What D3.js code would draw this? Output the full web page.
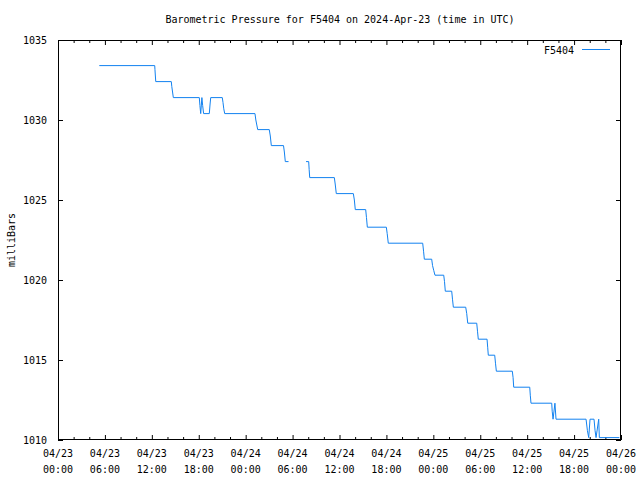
<!DOCTYPE html>
<html>
<head>
<meta charset="utf-8">
<script src="https://cdn.jsdelivr.net/npm/d3@7"></script>
<style>
  html, body { margin: 0; padding: 0; background: #fff; }
  svg text { font-family: "DejaVu Sans Mono", "Liberation Mono", monospace; font-size: 10px; fill: #000; }
</style>
</head>
<body>
<svg id="chart" width="640" height="480"></svg>
<script>
// ---- data (hours since 2024-04-23 00:00 UTC, pressure in mb; null = gap) ----
const hours = [
  5.28, 12.37, 12.40, 12.50, 14.49, 14.55, 14.75,
  18.07, 18.15, 18.25, 18.40, 18.50, 18.62, 19.35, 19.45, 19.53,
  21.01, 21.10, 21.20, 21.32, 25.19, 25.30, 25.54, 27.02, 27.15, 27.28,
  28.84, 28.95, 29.07, 29.48, 30.50,
  31.72, 32.06, 32.12, 32.19, 35.34, 35.45, 35.59, 37.77, 37.90, 38.02,
  39.35, 39.45, 39.56, 41.99, 42.10, 42.24, 46.64, 46.75, 46.85,
  47.79, 47.90, 48.05, 48.21, 49.33, 49.43, 49.53, 50.35, 50.45, 50.56,
  52.14, 52.27, 52.40, 53.55, 53.65, 53.75, 54.87, 54.95, 55.03,
  55.85, 55.95, 56.06, 58.10, 58.20, 58.28, 60.33, 60.40, 60.49,
  63.14, 63.20, 63.31, 63.55, 63.69, 67.53, 67.70, 67.87, 68.04,
  68.55, 68.68, 68.81, 69.15, 69.23, 71.79
];
const pressure = [
  1033.4, 1033.4, 1033.15, 1032.4, 1032.4, 1032.1, 1031.4,
  1031.4, 1030.9, 1030.4, 1031.4, 1030.9, 1030.4, 1030.4, 1031.0, 1031.4,
  1031.4, 1031.1, 1030.7, 1030.4, 1030.4, 1030.0, 1029.4, 1029.4, 1029.0, 1028.4,
  1028.4, 1028.0, 1027.4, 1027.4, null,
  1027.4, 1027.4, 1026.9, 1026.4, 1026.4, 1026.0, 1025.4, 1025.4, 1025.0, 1024.4,
  1024.4, 1023.9, 1023.3, 1023.3, 1022.9, 1022.3, 1022.3, 1021.8, 1021.3,
  1021.3, 1020.9, 1020.6, 1020.3, 1020.3, 1019.9, 1019.3, 1019.3, 1018.8, 1018.3,
  1018.3, 1017.9, 1017.3, 1017.3, 1016.8, 1016.3, 1016.3, 1015.8, 1015.3,
  1015.3, 1014.8, 1014.3, 1014.3, 1013.9, 1013.3, 1013.3, 1012.8, 1012.3,
  1012.3, 1011.8, 1011.3, 1012.3, 1011.3, 1011.3, 1010.6, 1010.15, 1011.3,
  1011.3, 1010.6, 1010.15, 1011.3, 1010.15, 1010.15
];
const yTicks = [1010, 1015, 1020, 1025, 1030, 1035];
const xTickHours = [0, 6, 12, 18, 24, 30, 36, 42, 48, 54, 60, 66, 72];
const xTickDates = ["04/23","04/23","04/23","04/23","04/24","04/24","04/24","04/24","04/25","04/25","04/25","04/25","04/26"];
const xTickTimes = ["00:00","06:00","12:00","18:00","00:00","06:00","12:00","18:00","00:00","06:00","12:00","18:00","00:00"];
const xMinorHours = d3.range(0, 73, 2);
const titleText = "Barometric Pressure for F5404 on 2024-Apr-23 (time in UTC)";
const yLabel = "milliBars";
const seriesName = "F5404";

// ---- layout ----
const L = 58, R = 621, T = 40, B = 440;
const t0 = Date.UTC(2024, 3, 23, 0, 0);
const toDate = h => new Date(t0 + h * 3600e3);

const svg = d3.select("#chart");
const x = d3.scaleUtc().domain([toDate(0), toDate(72)]).range([L, R]);
const y = d3.scaleLinear().domain([1010, 1035]).range([B, T]);

// minor ticks (bottom & top)
const minor = xMinorHours.filter(h => h % 6 !== 0).map(toDate);
svg.append("g").attr("transform", `translate(0,${B})`)
  .call(d3.axisBottom(x).tickValues(minor).tickSize(-3).tickFormat(""))
  .call(g => g.select(".domain").remove());
svg.append("g").attr("transform", `translate(0,${T})`)
  .call(d3.axisTop(x).tickValues(minor).tickSize(-3).tickFormat(""))
  .call(g => g.select(".domain").remove());

// major x ticks
const major = xTickHours.map(toDate);
svg.append("g").attr("transform", `translate(0,${B})`)
  .call(d3.axisBottom(x).tickValues(major).tickSize(-5).tickFormat(""))
  .call(g => g.select(".domain").remove());
svg.append("g").attr("transform", `translate(0,${T})`)
  .call(d3.axisTop(x).tickValues(major).tickSize(-5).tickFormat(""))
  .call(g => g.select(".domain").remove());

// x labels (two lines)
const xl = svg.append("g");
xTickHours.forEach((h, i) => {
  const t = xl.append("text").attr("x", x(toDate(h))).attr("text-anchor", "middle");
  t.append("tspan").attr("x", x(toDate(h))).attr("y", 457).text(xTickDates[i]);
  t.append("tspan").attr("x", x(toDate(h))).attr("y", 473).text(xTickTimes[i]);
});

// y ticks
svg.append("g").attr("transform", `translate(${L},0)`)
  .call(d3.axisLeft(y).tickValues(yTicks).tickSize(-5).tickPadding(11).tickFormat(d3.format("d")))
  .call(g => g.select(".domain").remove())
  .call(g => g.selectAll("text").style("font-family", "DejaVu Sans Mono, monospace").style("font-size", "10px"));
svg.append("g").attr("transform", `translate(${R},0)`)
  .call(d3.axisRight(y).tickValues(yTicks).tickSize(-5).tickFormat(""))
  .call(g => g.select(".domain").remove());

svg.selectAll(".tick line").attr("stroke", "#000");

// frame
svg.append("rect").attr("x", L + 0.5).attr("y", T + 0.5)
  .attr("width", R - L - 1).attr("height", B - T - 1)
  .attr("fill", "none").attr("stroke", "#000").attr("stroke-width", 1);

// series
const pts = hours.map((h, i) => ({ d: toDate(h), v: pressure[i] }));
const line = d3.line().defined(p => p.v !== null).x(p => x(p.d)).y(p => y(p.v));
svg.append("path").datum(pts).attr("d", line)
  .attr("fill", "none").attr("stroke", "#1282f0").attr("stroke-width", 1);

// title
svg.append("text").attr("x", 340).attr("y", 23).attr("text-anchor", "middle").text(titleText);

// y label
svg.append("text").attr("transform", "translate(15,240) rotate(-90)")
  .attr("text-anchor", "middle").text(yLabel);

// legend
svg.append("text").attr("x", 574).attr("y", 54).attr("text-anchor", "end").text(seriesName);
svg.append("line").attr("x1", 582).attr("x2", 610).attr("y1", 49.5).attr("y2", 49.5)
  .attr("stroke", "#1282f0").attr("stroke-width", 1);
</script>
</body>
</html>
